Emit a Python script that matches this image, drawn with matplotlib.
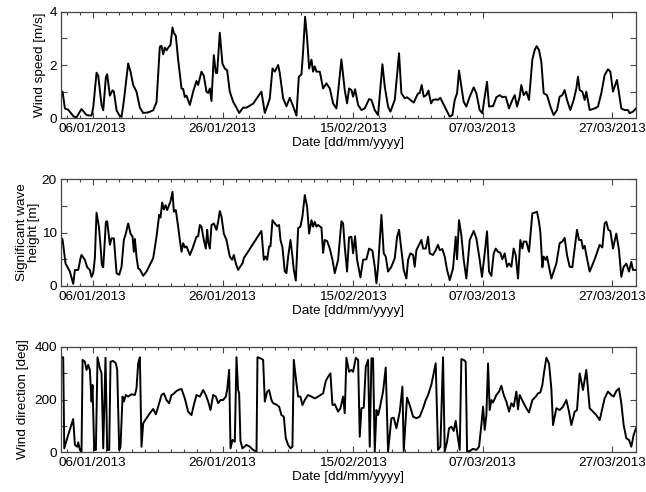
import datetime as dt

import matplotlib
matplotlib.use("Agg")
import matplotlib.pyplot as plt
import matplotlib.dates as mdates
from matplotlib.ticker import FixedLocator, MultipleLocator
import numpy as np

plt.rcParams["font.family"] = ["Liberation Sans", "DejaVu Sans"]

# Time stamps are days elapsed since 01/01/2013 00:00
START = dt.datetime(2013, 1, 1)

wind_speed_days = [
    0.12, 0.36, 0.72, 1.23, 2.10, 2.51, 3.28, 4.05, 4.82, 5.08, 5.59, 5.85, 6.36, 6.62,
    7.03, 7.23, 7.64, 8.05, 8.26, 8.67, 9.08, 9.44, 9.79, 10.46, 10.82, 11.23, 11.74,
    12.26, 12.77, 13.54, 14.31, 14.82, 15.33, 15.59, 15.85, 16.10, 16.36, 16.62, 16.97,
    17.28, 17.49, 17.79, 18.15, 18.67, 18.92, 19.18, 19.44, 19.95, 20.46, 20.97, 21.23,
    21.74, 22.10, 22.51, 22.77, 23.03, 23.28, 23.64, 23.95, 24.15, 24.56, 24.97, 25.33,
    25.69, 26.10, 26.62, 27.13, 27.54, 28.15, 28.67, 29.69, 30.97, 31.49, 32.00, 32.26,
    32.67, 33.03, 33.54, 33.79, 34.31, 34.82, 35.33, 35.85, 36.36, 36.72, 37.13, 37.38,
    37.69, 38.00, 38.31, 38.67, 38.92, 39.18, 39.44, 39.95, 40.46, 40.97, 41.49, 42.00,
    42.51, 43.28, 43.79, 44.15, 44.46, 44.82, 45.08, 45.38, 45.85, 46.36, 46.87, 47.54,
    47.90, 48.41, 48.92, 49.59, 49.95, 50.46, 50.82, 51.49, 52.15, 52.51, 53.03, 53.38,
    53.90, 54.41, 55.08, 55.33, 55.64, 55.95, 56.36, 56.67, 57.08, 57.38, 57.79, 58.15,
    58.51, 58.92, 59.44, 59.95, 60.36, 60.72, 61.08, 61.38, 61.74, 62.10, 62.51, 63.03,
    63.64, 64.05, 64.56, 64.97, 65.33, 65.69, 66.00, 66.62, 67.13, 67.64, 68.05, 68.56,
    69.08, 69.59, 69.95, 70.31, 70.72, 70.97, 71.33, 71.74, 72.15, 72.67, 73.03, 73.33,
    73.69, 74.05, 74.41, 74.92, 75.44, 75.95, 76.46, 76.87, 77.28, 77.64, 78.00, 78.51,
    79.03, 79.44, 79.69, 79.95, 80.36, 80.72, 80.97, 81.49, 82.26, 82.77, 83.28, 83.79,
    84.31, 84.67, 85.08, 85.33, 85.69, 86.00, 86.36, 86.87, 87.38, 87.64, 88.15, 88.62,
]
wind_speed = [
    1.00, 1.00, 0.37, 0.32, 0.06, 0.04, 0.35, 0.12, 0.10, 0.40, 1.71, 1.60, 0.50, 0.30,
    1.55, 1.65, 0.85, 1.05, 1.00, 0.30, 0.12, 0.05, 0.65, 2.06, 1.75, 1.25, 1.00,
    0.40, 0.20, 0.22, 0.30, 0.60, 2.69, 2.72, 2.40, 2.65, 2.55, 2.65, 2.75,
    3.41, 3.20, 3.10, 2.20, 1.12, 1.10, 0.80, 0.85, 0.50, 1.00, 1.40, 1.25,
    1.75, 1.60, 1.00, 0.95, 1.12, 0.65, 2.37, 1.70, 1.70, 3.21, 2.05, 1.87,
    1.80, 1.00, 0.62, 0.40, 0.20, 0.40, 0.40, 0.55, 1.00, 0.20, 0.55, 0.75,
    1.87, 1.75, 2.00, 1.70, 0.75, 0.45, 0.77, 0.45, 0.10, 1.55, 1.65, 2.50,
    3.81, 3.00, 1.87, 2.20, 1.75, 1.95, 1.75, 1.75, 1.12, 1.31, 1.12, 0.56,
    0.37, 2.21, 1.06, 0.56, 1.12, 1.06, 0.81, 1.09, 0.50, 0.31, 0.37, 0.72,
    0.69, 0.31, 0.12, 2.03, 1.19, 0.44, 0.25, 0.69, 2.44, 0.94, 0.75, 0.79,
    0.69, 0.59, 0.94, 0.94, 1.25, 0.81, 0.87, 1.04, 0.56, 0.69, 0.71, 0.69,
    0.77, 0.56, 0.31, 0.06, 0.12, 0.69, 0.94, 1.79, 1.19, 0.62, 0.44, 0.81,
    1.16, 0.94, 0.31, 0.19, 0.81, 1.37, 0.44, 0.46, 0.79, 0.87, 0.79, 0.81,
    0.37, 0.69, 0.87, 0.44, 0.81, 1.25, 0.87, 1.00, 0.69, 2.21, 2.56, 2.71,
    2.56, 2.12, 0.94, 0.87, 0.44, 0.12, 0.31, 0.81, 0.87, 1.06, 0.69, 0.31,
    0.69, 1.12, 1.56, 1.06, 1.00, 0.69, 1.00, 0.31, 0.37, 0.44, 0.94, 1.62,
    1.84, 1.75, 1.00, 1.19, 1.44, 0.94, 0.37, 0.31, 0.31, 0.19, 0.25, 0.37,
]

wave_days = [
    0.12, 0.36, 0.82, 1.49, 2.00, 2.26, 2.77, 3.18, 3.28, 3.79, 4.15, 4.56, 4.82, 5.08,
    5.33, 5.59, 5.95, 6.21, 6.41, 6.62, 6.87, 7.03, 7.23, 7.64, 7.90, 8.26, 8.67, 9.08,
    9.44, 9.79, 10.10, 10.46, 10.82, 11.13, 11.33, 11.49, 11.74, 12.00, 12.26, 12.77,
    13.28, 14.31, 14.82, 15.23, 15.44, 15.69, 15.95, 16.21, 16.46, 16.72, 16.97, 17.28,
    17.49, 17.79, 18.15, 18.41, 18.67, 18.92, 19.18, 19.44, 19.95, 20.36, 20.97, 21.23,
    21.49, 21.74, 22.10, 22.41, 22.62, 22.77, 23.03, 23.28, 23.64, 24.05, 24.31, 24.56,
    24.82, 25.18, 25.59, 26.10, 26.46, 26.72, 27.03, 27.38, 27.74, 28.05, 28.26, 30.97,
    31.33, 31.59, 31.85, 32.15, 32.36, 32.67, 33.03, 33.38, 33.69, 33.90, 34.21, 34.56,
    34.82, 35.08, 35.44, 35.74, 35.95, 36.26, 36.62, 36.97, 37.28, 37.64, 38.00, 38.31,
    38.67, 38.92, 39.18, 39.44, 39.69, 40.21, 40.46, 40.72, 41.08, 41.49, 41.90, 42.26,
    42.77, 43.28, 43.54, 43.79, 44.15, 44.46, 44.82, 45.08, 45.38, 45.69, 46.21, 46.62,
    47.13, 47.54, 48.05, 48.41, 48.67, 48.92, 49.44, 49.79, 50.10, 50.46, 50.97, 51.49,
    51.85, 52.15, 52.51, 52.87, 53.28, 53.54, 53.90, 54.31, 54.56, 54.82, 55.23, 55.59,
    55.85, 56.26, 56.62, 56.87, 57.38, 57.79, 58.15, 58.41, 58.82, 59.18, 59.54, 59.95,
    60.46, 60.87, 61.08, 61.38, 61.74, 62.10, 62.51, 63.03, 63.64, 64.05, 64.56, 64.92,
    65.33, 65.69, 66.00, 66.36, 66.72, 67.03, 67.38, 67.74, 68.05, 68.41, 68.77, 69.08,
    69.44, 69.79, 70.10, 70.46, 70.82, 71.13, 71.33, 71.74, 72.15, 72.67, 73.03, 73.38,
    73.69, 73.90, 74.21, 74.41, 74.72, 74.92, 75.23, 75.59, 75.95, 76.36, 76.87, 77.28,
    77.64, 78.00, 78.41, 78.82, 79.18, 79.54, 79.85, 80.21, 80.46, 80.72, 80.97, 81.49,
    82.00, 82.41, 83.03, 83.44, 83.79, 84.05, 84.36, 84.67, 85.08, 85.59, 86.00, 86.36,
    86.72, 87.13, 87.54, 87.90, 88.15, 88.62,
]
wave_height = [
    9.1, 8.7, 4.2, 2.7, 0.4, 3.0, 3.0, 5.5, 5.8, 4.9, 3.5, 3.0, 1.7, 2.4,
    5.2, 13.7, 11.1, 7.4, 3.9, 3.5, 8.6, 12.0, 12.1, 7.7, 8.9, 8.9, 2.4, 2.1,
    3.6, 8.6, 9.8, 11.7, 9.8, 9.2, 6.4, 8.8, 5.5, 3.3, 3.1, 1.9,
    2.7, 5.2, 9.2, 13.3, 12.8, 15.6, 14.3, 15.1, 14.2, 15.0, 15.8, 17.6,
    13.9, 14.2, 11.1, 8.6, 6.4, 8.0, 7.2, 7.4, 5.8, 7.0, 9.2, 9.3,
    11.4, 11.1, 8.6, 7.0, 10.5, 8.3, 7.0, 11.4, 11.7, 10.5, 12.0, 14.0,
    13.0, 9.8, 8.6, 5.5, 4.9, 5.8, 4.2, 3.0, 3.7, 4.2, 5.2, 10.3,
    4.9, 5.5, 4.9, 7.4, 7.4, 12.3, 11.7, 11.2, 11.4, 8.6, 7.2, 2.7,
    2.4, 5.5, 8.6, 5.5, 3.0, 1.0, 10.8, 11.1, 13.0, 17.0, 14.8, 9.8,
    12.3, 11.1, 12.0, 11.1, 11.4, 10.9, 6.2, 8.6, 8.4, 7.0, 4.9, 2.4,
    4.9, 12.1, 11.7, 7.4, 2.7, 9.1, 9.2, 6.1, 9.3, 4.9, 1.6, 4.9,
    5.0, 7.0, 6.6, 3.6, 0.5, 3.6, 13.3, 6.1, 5.5, 2.7, 3.6, 5.2,
    9.2, 10.5, 6.7, 3.0, 1.4, 4.9, 6.1, 5.8, 3.6, 6.7, 7.7, 8.6,
    7.0, 7.0, 9.2, 6.1, 5.8, 6.7, 7.7, 6.7, 6.9, 5.5, 3.0, 1.1,
    3.3, 9.2, 5.0, 12.3, 9.5, 4.9, 1.4, 8.6, 10.3, 8.9, 4.9, 1.7,
    6.1, 10.2, 2.7, 1.9, 6.1, 7.0, 6.4, 6.2, 5.0, 6.1, 3.6, 4.2,
    3.6, 7.0, 5.8, 1.4, 8.6, 7.0, 8.3, 8.3, 6.4, 13.6, 13.7, 13.9,
    12.0, 10.0, 3.5, 5.5, 4.9, 5.5, 3.6, 1.4, 2.7, 4.2, 8.0, 8.3,
    9.0, 5.8, 3.6, 3.5, 7.0, 10.5, 8.6, 8.6, 7.0, 7.5, 5.8, 2.7,
    4.2, 5.5, 7.7, 7.2, 11.7, 12.0, 10.5, 10.3, 7.0, 9.8, 6.7, 1.7,
    3.6, 4.2, 2.7, 4.5, 3.0, 3.0,
]

wind_dir_days = [
    0.12, 0.46, 0.62, 1.23, 2.00, 2.26, 2.62, 2.77, 3.03, 3.28, 3.44, 3.79, 4.05, 4.31,
    4.56, 4.82, 4.97, 5.23, 5.49, 5.74, 6.10, 6.36, 6.62, 6.97, 7.23, 7.54, 7.74, 8.15,
    8.56, 8.77, 9.08, 9.28, 9.59, 9.79, 10.10, 10.46, 10.97, 11.49, 11.74, 12.00, 12.26,
    12.51, 12.77, 13.28, 13.79, 14.31, 14.72, 15.08, 15.59, 15.95, 16.36, 16.77, 17.13,
    17.38, 17.79, 18.15, 18.67, 19.18, 19.69, 20.21, 20.56, 20.97, 21.49, 22.00, 22.41,
    22.77, 23.13, 23.54, 23.95, 24.31, 24.67, 25.08, 25.49, 25.69, 26.00, 26.21, 26.51,
    26.87, 27.13, 27.38, 27.54, 27.74, 28.05, 28.67, 29.18, 29.69, 30.21, 30.36, 30.82,
    31.23, 31.49, 31.85, 32.15, 32.51, 32.77, 33.18, 33.69, 34.05, 34.41, 34.72, 35.08,
    35.44, 35.74, 35.95, 36.36, 36.62, 36.97, 37.28, 37.64, 38.15, 38.67, 39.18, 39.69,
    40.05, 40.46, 40.87, 41.23, 41.59, 41.90, 42.26, 42.77, 43.13, 43.54, 43.79, 44.05,
    44.46, 44.82, 45.08, 45.49, 45.85, 46.10, 46.36, 46.72, 47.03, 47.38, 47.64, 47.90,
    48.15, 48.41, 48.67, 48.92, 49.18, 49.69, 50.10, 50.46, 50.97, 51.33, 51.74, 52.26,
    52.67, 52.87, 53.38, 53.79, 54.31, 54.82, 55.33, 55.85, 56.26, 56.62, 57.13, 57.79,
    58.15, 58.51, 58.92, 59.18, 59.54, 59.85, 60.21, 60.56, 60.87, 61.18, 61.49, 61.74,
    62.10, 62.41, 62.62, 63.03, 63.54, 64.05, 64.46, 64.82, 65.08, 65.33, 65.59, 65.85,
    66.10, 66.36, 66.62, 67.13, 67.54, 67.90, 68.26, 68.67, 69.08, 69.44, 69.79, 70.21,
    70.46, 70.72, 70.97, 71.33, 71.74, 72.15, 72.67, 73.18, 73.54, 73.90, 74.21, 74.41,
    74.82, 75.23, 75.59, 75.85, 76.36, 76.87, 77.39, 77.90, 78.31, 78.67, 79.18, 79.54,
    79.95, 80.46, 80.97, 81.49, 82.00, 82.51, 83.03, 83.79, 84.31, 84.82, 85.18, 85.59,
    86.00, 86.36, 86.72, 87.13, 87.54, 87.90, 88.26, 88.62,
]
wind_dir = [
    360, 360, 15, 66, 126, 28, 21, 38, 9, 3, 350, 343, 312, 331,
    312, 192, 255, 9, 9, 360, 318, 299, 15, 358, 9, 9, 343, 346,
    337, 312, 9, 21, 211, 192, 217, 211, 220, 217, 242, 337, 360,
    21, 110, 129, 148, 164, 144, 173, 217, 223, 198, 186, 217,
    220, 230, 236, 240, 204, 154, 141, 179, 217, 211, 236, 217,
    192, 160, 217, 211, 186, 198, 198, 211, 236, 312, 15, 47,
    40, 360, 236, 223, 43, 15, 28, 21, 9, 3, 360, 356,
    350, 192, 230, 236, 198, 186, 182, 173, 141, 135, 53, 28,
    15, 21, 350, 261, 211, 211, 179, 198, 217, 211, 204, 211,
    217, 223, 270, 286, 299, 179, 182, 154, 167, 211, 148, 358,
    305, 312, 305, 358, 350, 59, 167, 169, 324, 350, 21, 356,
    356, 3, 160, 141, 167, 230, 321, 3, 129, 131, 91, 154,
    249, 5, 207, 179, 135, 129, 135, 167, 198, 217, 257, 337,
    9, 21, 360, 3, 40, 91, 97, 81, 119, 59, 9, 353,
    350, 343, 3, 5, 13, 9, 21, 103, 173, 85, 141, 337,
    160, 198, 189, 217, 230, 252, 217, 192, 154, 186, 173, 230,
    163, 217, 204, 186, 167, 151, 198, 211, 223, 227, 255, 293,
    358, 337, 242, 103, 167, 160, 173, 198, 154, 103, 154, 160,
    299, 236, 312, 167, 154, 141, 122, 204, 230, 217, 211, 232,
    242, 186, 103, 53, 47, 21, 66, 91,
]

# (days, values, y label, y max, tick step, labelled step, label pad)
panels = [
    (wind_speed_days, wind_speed, "Wind speed [m/s]", 4, 1, 2, 2.5),
    (wave_days, wave_height, "Significant wave\nheight [m]", 20, 5, 10, 1.5),
    (wind_dir_days, wind_dir, "Wind direction [deg]", 400, 100, 200, 3.5),
]

major_days = [5, 25, 45, 65, 85]
minor_days = [d for d in range(1, 64, 2) if d not in major_days]

FS = 9.7
SPINE = "#444444"

fig = plt.figure(figsize=(6.46, 4.92), dpi=100)
left, width = 61 / 646, 575 / 646
bottoms = [1 - 118.3 / 492, 1 - 286.0 / 492, 1 - 452.3 / 492]
heights = [106.6 / 492, 107.0 / 492, 105.6 / 492]

t0 = mdates.date2num(START)
xmin = t0 + min(wind_speed_days[0], wave_days[0], wind_dir_days[0])
xmax = t0 + max(wind_speed_days[-1], wave_days[-1], wind_dir_days[-1])

for (days, vals, ylabel, ymax, ystep, ylabstep, lpad), b, h in zip(panels, bottoms, heights):
    ax = fig.add_axes([left, b, width, h])
    t = t0 + np.asarray(days, dtype=float)
    ax.plot(t, vals, color="black", linewidth=1.4, solid_joinstyle="round")
    ax.set_xlim(xmin, xmax)
    ax.set_ylim(0, ymax)

    ax.xaxis.set_major_locator(FixedLocator([t0 + d for d in major_days]))
    ax.xaxis.set_minor_locator(FixedLocator([t0 + d for d in minor_days]))
    ax.xaxis.set_major_formatter(mdates.DateFormatter("%d/%m/%Y"))

    ax.yaxis.set_major_locator(MultipleLocator(ystep))
    ax.yaxis.set_major_formatter(
        plt.FuncFormatter(lambda v, p, s=ylabstep: f"{v:g}" if abs(v / s - round(v / s)) < 1e-6 else "")
    )

    ax.tick_params(axis="both", which="both", direction="in", top=True, right=True,
                   color=SPINE, width=0.8, labelsize=FS)
    ax.tick_params(axis="both", which="major", length=4)
    ax.tick_params(axis="x", which="minor", length=2.5)
    ax.tick_params(axis="x", which="major", pad=3.5)
    ax.tick_params(axis="y", which="major", pad=3)

    for sp in ax.spines.values():
        sp.set_color(SPINE)
        sp.set_linewidth(0.9)

    ax.set_xlabel("Date [dd/mm/yyyy]", fontsize=FS, labelpad=1.5)
    ax.set_ylabel(ylabel, fontsize=FS, labelpad=lpad, linespacing=1.0)

fig.savefig("out.png", dpi=100)
